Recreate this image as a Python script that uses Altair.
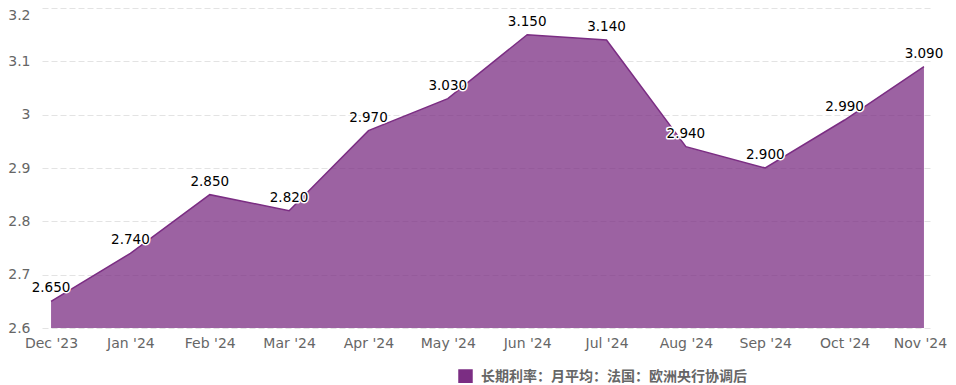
import altair as alt
import pandas as pd

months = ["Dec '23", "Jan '24", "Feb '24", "Mar '24", "Apr '24", "May '24",
          "Jun '24", "Jul '24", "Aug '24", "Sep '24", "Oct '24", "Nov '24"]
values = [2.650, 2.740, 2.850, 2.820, 2.970, 3.030, 3.150, 3.140, 2.940, 2.900, 2.990, 3.090]
series_name = "长期利率：月平均：法国：欧洲央行协调后"
y_ticks = [2.6, 2.7, 2.8, 2.9, 3.0, 3.1, 3.2]
y_min, y_max = 2.6, 3.2

df = pd.DataFrame({"month": months, "value": values, "series": series_name})
df["label"] = [f"{v:.3f}" for v in values]

FONT = "DejaVu Sans"
PURPLE = "#7B2D83"

x_enc = alt.X("month:N", sort=months, title=None,
              scale=alt.Scale(type="point", padding=0.114),
              axis=alt.Axis(labelAngle=0, labelFont=FONT, labelFontSize=14,
                            labelColor="#666666", labelPadding=8, ticks=False,
                            labelOffset={"condition": {"test": f"datum.value === \"{months[-1]}\"",
                                                       "value": -4},
                                         "value": 0},
                            domain=False, grid=False))
y_enc = alt.Y("value:Q", title=None,
              scale=alt.Scale(domain=[y_min, y_max], zero=False, nice=False),
              axis=alt.Axis(values=y_ticks, format="~g", labelFont=FONT,
                            labelFontSize=14, labelColor="#666666", labelPadding=12,
                            labelBaseline={"condition": {"test": "datum.value >= 3.19",
                                                         "value": "top"},
                                           "value": "middle"},
                            ticks=False, domain=False, grid=True,
                            gridColor="#e3e3e3", gridDash=[6, 3], gridWidth=1))

area = alt.Chart(df).mark_area(
    fillOpacity=0.75,
    line={"color": PURPLE, "strokeWidth": 1.5},
).encode(
    x=x_enc, y=y_enc, y2=alt.datum(y_min),
    color=alt.Color("series:N", title=None,
                    scale=alt.Scale(range=[PURPLE]),
                    legend=alt.Legend(orient="none", legendX=416, legendY=361,
                                      symbolType="square", symbolSize=210,
                                      symbolOpacity=1, symbolStrokeWidth=0,
                                      labelFont="Noto Sans CJK SC", labelFontSize=14,
                                      labelColor="#666666", labelFontWeight="bold",
                                      labelLimit=400, symbolOffset=0, labelOffset=8)),
)

halo = alt.Chart(df).mark_text(
    font=FONT, fontSize=13.5, dy=-13, color="white", stroke="white",
    strokeWidth=3, strokeJoin="round",
).encode(x=alt.X("month:N", sort=months), y="value:Q", text="label:N")

labels = alt.Chart(df).mark_text(
    font=FONT, fontSize=13.5, dy=-13, color="black",
).encode(x=alt.X("month:N", sort=months), y="value:Q", text="label:N")

chart = alt.layer(area, halo, labels).properties(
    width=891, height=320,
    autosize=alt.AutoSizeParams(type="none"),
    padding={"left": 34, "top": 0, "right": 15, "bottom": 55},
).configure_view(stroke=None)

chart.save("out.html", embed_options={"renderer": "svg", "actions": False})
